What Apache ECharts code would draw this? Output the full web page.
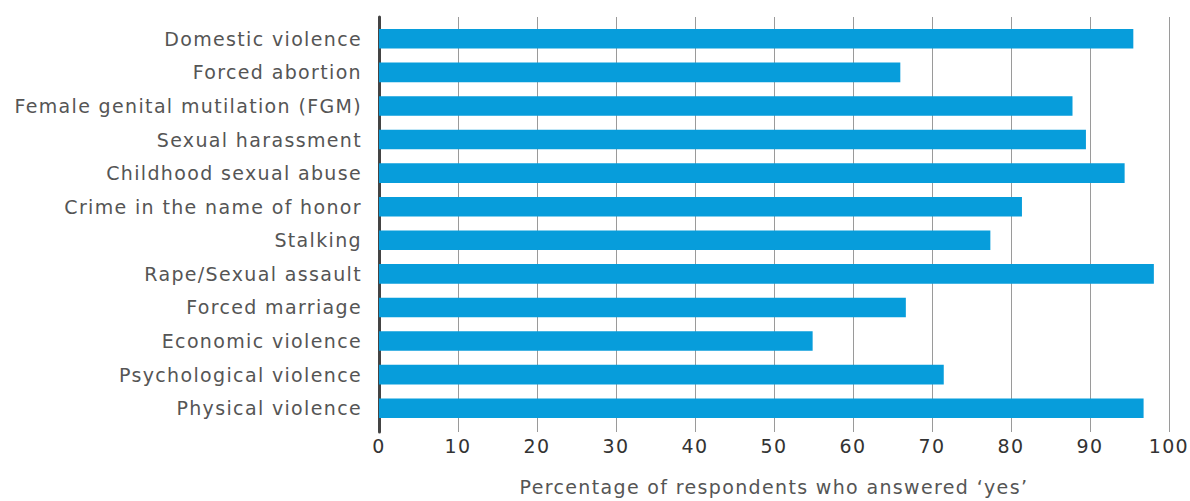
<!DOCTYPE html>
<html><head><meta charset="utf-8">
<script src="https://cdn.jsdelivr.net/npm/echarts@6/dist/echarts.min.js"></script>
<style>html,body{margin:0;padding:0;background:#fff}#c{width:1190px;height:501px}#c text{letter-spacing:1.35px}</style>
</head><body><div id="c"></div>
<script>
const categories = ["Domestic violence","Forced abortion","Female genital mutilation (FGM)","Sexual harassment","Childhood sexual abuse","Crime in the name of honor","Stalking","Rape/Sexual assault","Forced marriage","Economic violence","Psychological violence","Physical violence"];
const values = [95.5, 66.0, 87.8, 89.5, 94.4, 81.4, 77.4, 98.1, 66.7, 54.9, 71.5, 96.8];
const xTicks = [0,10,20,30,40,50,60,70,80,90,100];
const xTitle = "Percentage of respondents who answered \u2018yes\u2019";
const font = "'DejaVu Sans', sans-serif";
const chart = echarts.init(document.getElementById('c'), null, {renderer:'svg'});
chart.setOption({
  animation:false,
  grid:[
    {left:379, right:21, top:22, bottom:69, containLabel:false},
    {left:379, right:21, top:17, bottom:69, containLabel:false}
  ],
  xAxis:[
    {type:'value', gridIndex:0, min:xTicks[0], max:xTicks[xTicks.length-1], interval:10,
      axisLine:{show:false}, axisTick:{show:false}, splitLine:{show:false},
      axisLabel:{color:'#333', fontSize:19, fontFamily:font, margin:11},
      name:xTitle, nameLocation:'middle', nameGap:52,
      nameTextStyle:{color:'#555', fontSize:19, fontFamily:font}},
    {type:'value', gridIndex:1, min:xTicks[0], max:xTicks[xTicks.length-1], interval:10,
      axisLine:{show:false}, axisTick:{show:false}, axisLabel:{show:false},
      splitLine:{show:true, lineStyle:{color:'#9a9a9a', width:1}}}
  ],
  yAxis:[
    {type:'category', gridIndex:0, data:categories, inverse:true,
      axisLine:{show:false}, axisTick:{show:false},
      axisLabel:{color:'#555', fontSize:19, fontFamily:font, margin:17}},
    {type:'category', gridIndex:1, data:categories, inverse:true,
      axisLine:{show:true, lineStyle:{color:'#444', width:3}},
      axisTick:{show:false}, axisLabel:{show:false}}
  ],
  series:[{type:'bar', xAxisIndex:0, yAxisIndex:0, data:values, barCategoryGap:'41.5%', itemStyle:{color:'#079ddb'}, silent:true}]
});
</script></body></html>
